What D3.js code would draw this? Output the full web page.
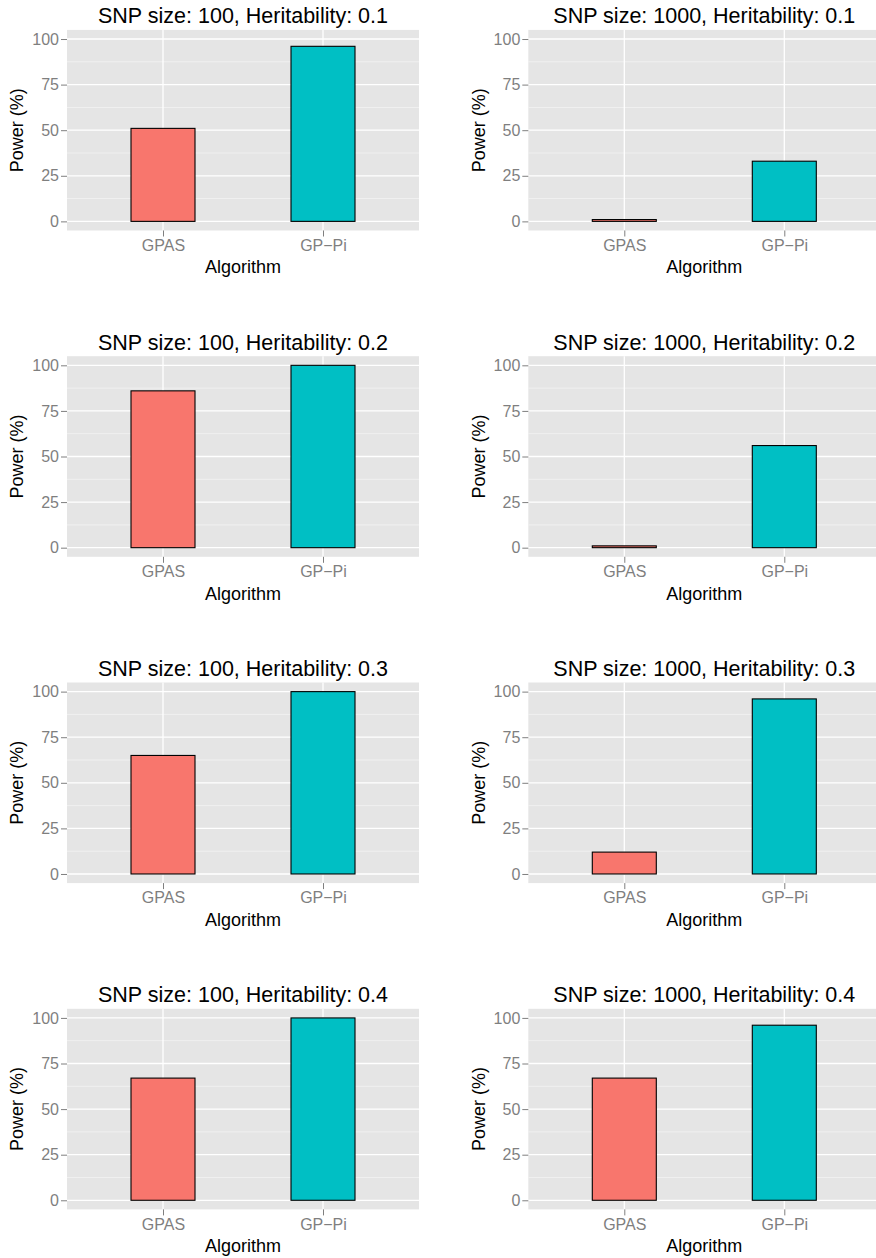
<!DOCTYPE html>
<html>
<head>
<meta charset="utf-8">
<script src="https://cdn.jsdelivr.net/npm/d3@7"></script>
<style>
  body { margin: 0; background: #fff; }
  text { font-family: "Liberation Sans", Arial, Helvetica, sans-serif; }
</style>
</head>
<body>
<svg id="viz"></svg>
<script>
var width = 876, height = 1258;

// data
var algorithms = ["GPAS", "GP\u2212Pi"];
var snpSizes = [100, 1000];
var heritabilities = [0.1, 0.2, 0.3, 0.4];
var gpas100 = [51, 86, 65, 67];
var gppi100 = [96, 100, 100, 100];
var gpas1000 = [1, 1, 12, 67];
var gppi1000 = [33, 56, 96, 96];
var yTicks = [0, 25, 50, 75, 100];
var yMinor = [12.5, 37.5, 62.5, 87.5];
var colors = ["#F8766D", "#00BFC4"];

var series = { 100: [gpas100, gppi100], 1000: [gpas1000, gppi1000] };

var svg = d3.select("#viz").attr("width", width).attr("height", height);

// layout
var colX = [67, 528.3];
var plotW = 352, plotH = 200.6;
var rowTop0 = 29.9, rowStep = 326.3;

heritabilities.forEach(function(h, r) {
  snpSizes.forEach(function(snp, c) {
    var x0 = colX[c], y0 = rowTop0 + r * rowStep;
    var g = svg.append("g").attr("transform", "translate(" + x0 + "," + y0 + ")");

    var x = d3.scalePoint().domain(algorithms).range([0, plotW]).padding(0.6);
    var y = d3.scaleLinear().domain([-5, 105]).range([plotH, 0]);
    var bw = x.step() * 0.4;

    var vals = algorithms.map(function(a, i) {
      return { alg: a, value: series[snp][i][r], color: colors[i] };
    });

    // panel background
    g.append("rect").attr("width", plotW).attr("height", plotH).attr("fill", "#E5E5E5");

    // minor grid
    g.selectAll(".minor").data(yMinor).enter().append("line")
      .attr("x1", 0).attr("x2", plotW)
      .attr("y1", function(d) { return y(d); }).attr("y2", function(d) { return y(d); })
      .attr("stroke", "#F2F2F2").attr("stroke-width", 0.9);

    // major grid
    g.selectAll(".major").data(yTicks).enter().append("line")
      .attr("x1", 0).attr("x2", plotW)
      .attr("y1", function(d) { return y(d); }).attr("y2", function(d) { return y(d); })
      .attr("stroke", "#fff").attr("stroke-width", 1.3);
    g.selectAll(".vmajor").data(algorithms).enter().append("line")
      .attr("y1", 0).attr("y2", plotH)
      .attr("x1", function(d) { return x(d); }).attr("x2", function(d) { return x(d); })
      .attr("stroke", "#fff").attr("stroke-width", 1.3);

    // bars
    g.selectAll(".bar").data(vals).enter().append("rect")
      .attr("x", function(d) { return x(d.alg) - bw / 2; })
      .attr("width", bw)
      .attr("y", function(d) { return y(d.value); })
      .attr("height", function(d) { return y(0) - y(d.value); })
      .attr("fill", function(d) { return d.color; })
      .attr("stroke", "#000").attr("stroke-width", 1.1);

    // axes
    var yAxis = g.append("g").call(d3.axisLeft(y).tickValues(yTicks).tickSize(6).tickPadding(2));
    var xAxis = g.append("g").attr("transform", "translate(0," + plotH + ")")
      .call(d3.axisBottom(x).tickSize(6).tickPadding(3));
    [yAxis, xAxis].forEach(function(a) {
      a.select(".domain").remove();
      a.selectAll(".tick line").attr("stroke", "#7F7F7F").attr("stroke-width", 1);
      a.selectAll(".tick text").attr("fill", "#7F7F7F")
        .style("font-size", "16px").style("font-family", "'Liberation Sans', Arial, sans-serif");
    });

    // titles
    g.append("text")
      .attr("x", plotW / 2)
      .attr("y", -6.6)
      .attr("text-anchor", "middle")
      .style("font-size", "21.5px")
      .text("SNP size: " + snp + ", Heritability: " + h);

    g.append("text")
      .attr("x", plotW / 2).attr("y", plotH + 43)
      .attr("text-anchor", "middle")
      .style("font-size", "18px")
      .text("Algorithm");

    g.append("text")
      .attr("transform", "translate(" + (c == 0 ? -44.5 : -43.3) + "," + (plotH / 2) + ") rotate(-90)")
      .attr("text-anchor", "middle")
      .style("font-size", "18px")
      .text("Power (%)");
  });
});
</script>
</body>
</html>
